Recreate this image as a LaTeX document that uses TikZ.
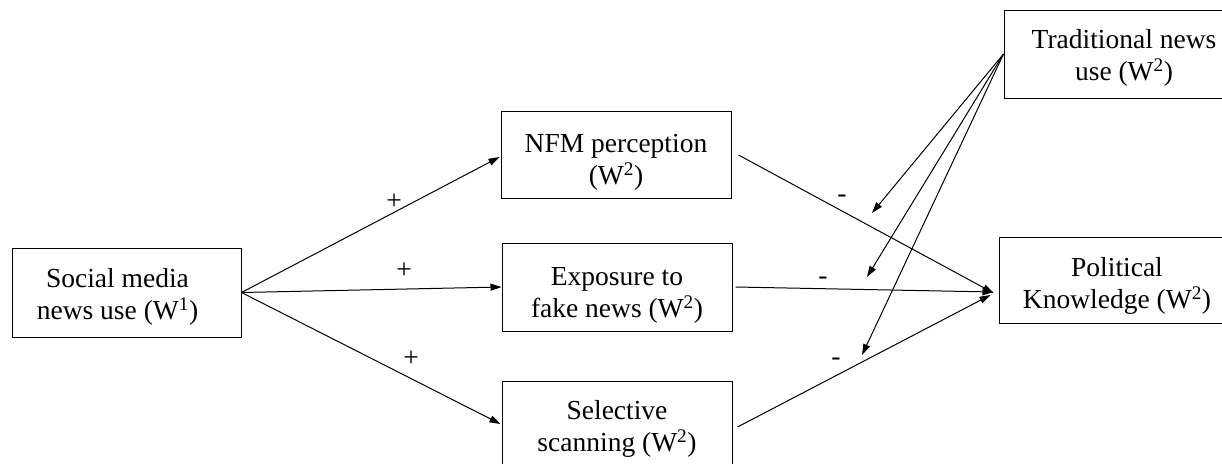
\documentclass[tikz,border=0pt]{standalone}
\usepackage{fontspec}
\setmainfont{Liberation Serif}
\usetikzlibrary{arrows.meta,calc}
\newcommand\strutof[1]{\rule{0pt}{#1pt}}
\begin{document}
\begin{tikzpicture}[x=1pt,y=-1pt,
  txt/.style={font=\fontsize{27.5pt}{32pt}\selectfont},
  box/.style={txt, draw, line width=1pt, minimum width=230pt, minimum height=88pt, inner sep=0pt, align=center},
  link/.style={line width=1pt, -{Triangle[length=11pt,width=7pt]}},
  sign/.style={txt, inner sep=0pt}]
\useasboundingbox (0,0) rectangle (1222,463);
\clip (0,0) rectangle (1222,463);
\fill[white] (0,0) rectangle (1222,463);
% boxes
\node[box, minimum width=229pt, minimum height=89pt] (soc) at (126.5,292.5) {\strutof{27}Social media\hspace*{18pt}\\news use (W\textsuperscript{1})\hspace*{18pt}};
\node[box, minimum height=87pt] (nfm) at (616,154.5) {\strutof{33}NFM perception\\(W\textsuperscript{2})};
\node[box] (exp) at (617,287) {\strutof{35}Exposure to\\fake news (W\textsuperscript{2})};
\node[box] (sel) at (617,425) {\strutof{27}Selective\\scanning (W\textsuperscript{2})};
\node[box, minimum width=240pt] (trad) at (1124,54) {\strutof{27}Traditional news\\use (W\textsuperscript{2})};
\node[box, minimum width=236pt, minimum height=86pt] (pol) at (1117,280) {\strutof{31}Political\\Knowledge (W\textsuperscript{2})};
% free ends of the moderating arrows
\coordinate (m1) at (872,213);
\coordinate (m2) at (867,277);
\coordinate (m3) at (862,355);
% arrows from social media use
\draw[link] (soc.east) -- ($(nfm.west)+(-1,2.5)$);
\draw[link] (soc.east) -- (exp.west);
\draw[link] (soc.east) -- ($(sel.west)+(-1,-1)$);
% arrows to political knowledge
\draw[link] ($(nfm.east)+(7,0.5)$) -- ($(pol.west)+(-5,13)$);
\draw[link] ($(exp.east)+(3,0)$) -- ($(pol.west)+(-5,12)$);
\draw[link] ($(sel.east)+(5,2)$) -- ($(pol.west)+(-8,15)$);
% moderating arrows
\draw[link] (trad.west) -- (m1);
\draw[link] (trad.west) -- (m2);
\draw[link] (trad.west) -- (m3);
% signs
\node[sign] (p1) at (394,202) {+};
\node[sign] (p2) at (404,271) {+};
\node[sign] (p3) at (411,359) {+};
\node[sign] (n1) at (842,199) {-};
\node[sign] (n2) at (823,281) {-};
\node[sign] (n3) at (836,362) {-};
\end{tikzpicture}
\end{document}
